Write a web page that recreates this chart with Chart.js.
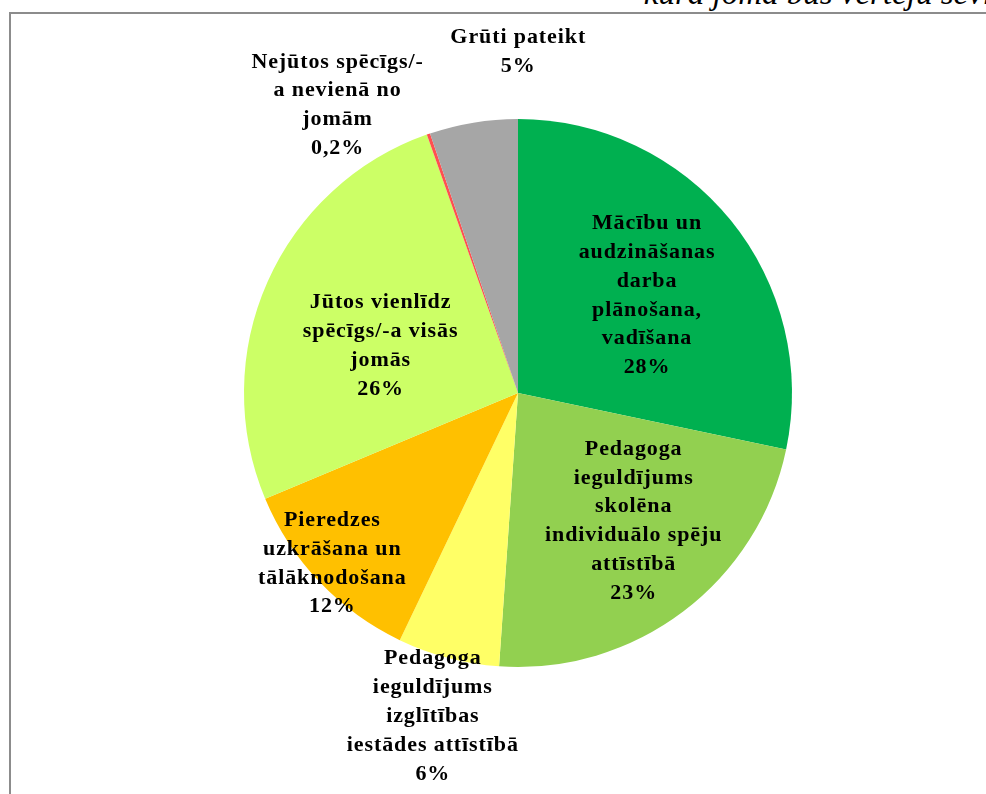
<!DOCTYPE html>
<html>
<head>
<meta charset="utf-8">
<script src="https://cdn.jsdelivr.net/npm/chart.js@4"></script>
<style>
    html, body { margin: 0; padding: 0; background: #fff; overflow: hidden; }
    #wrap { position: relative; width: 986px; height: 794px; }
    #frame { position: absolute; left: 9px; top: 12px; width: 1000px; height: 800px; border: 2px solid #8c8c8c; box-sizing: border-box; }
    #title { position: absolute; right: -6px; top: -25px; font: italic 33px "Liberation Serif", "Times New Roman", serif; color: #000; white-space: nowrap; }
    canvas { position: absolute; left: 0; top: 0; }
</style>
</head>
<body>
<div id="wrap">
    <div id="frame"></div>
    <div id="title">kurā jomā būs vērtēju sevi</div>
    <canvas id="pieChart" width="986" height="794"></canvas>
</div>
<script>
// Chart data
const categories = [
    ['Mācību un', 'audzināšanas', 'darba', 'plānošana,', 'vadīšana'],
    ['Pedagoga', 'ieguldījums', 'skolēna', 'individuālo spēju', 'attīstībā'],
    ['Pedagoga', 'ieguldījums', 'izglītības', 'iestādes attīstībā'],
    ['Pieredzes', 'uzkrāšana un', 'tālāknodošana'],
    ['Jūtos vienlīdz', 'spēcīgs/-a visās', 'jomās'],
    ['Nejūtos spēcīgs/-', 'a nevienā no', 'jomām'],
    ['Grūti pateikt']
];
const shares = [28.3, 22.8, 6.0, 11.6, 25.9, 0.2, 5.2];
const shownPercent = ['28%', '23%', '6%', '12%', '26%', '0,2%', '5%'];
const sliceColors = ['#00B050', '#92D050', '#FFFF66', '#FFC000', '#CCFF66', '#FF5050', '#A6A6A6'];

// where each label sits: fraction of radius and angle nudge (degrees)
const labelPlace = [
    { f: 0.59, da: 2 },
    { f: 0.63, da: -5 },
    { f: 1.22, da: 0 },
    { f: 0.92, da: 1 },
    { f: 0.53, da: -5 },
    { f: 1.24, da: -13 },
    { f: 1.245, da: 9.4 }
];

// Plugin drawing the multi-line labels
const sliceLabels = {
    id: 'sliceLabels',
    afterDatasetsDraw(chart) {
        const ctx = chart.ctx;
        const meta = chart.getDatasetMeta(0);
        ctx.save();
        ctx.font = 'bold 22px "Liberation Serif", "Times New Roman", serif';
        ctx.letterSpacing = '0.9px';
        ctx.fillStyle = '#000';
        ctx.textAlign = 'center';
        ctx.textBaseline = 'middle';
        const lineH = 28.8;
        meta.data.forEach((arc, i) => {
            const p = arc.getProps(['x', 'y', 'startAngle', 'endAngle', 'outerRadius'], true);
            const mid = (p.startAngle + p.endAngle) / 2 + labelPlace[i].da * Math.PI / 180;
            const r = p.outerRadius * labelPlace[i].f;
            const cx = p.x + Math.cos(mid) * r;
            const cy = p.y + Math.sin(mid) * r;
            const lines = categories[i].concat([shownPercent[i]]);
            const top = cy - (lines.length - 1) * lineH / 2;
            lines.forEach((line, k) => {
                ctx.fillText(line, cx, top + k * lineH);
            });
        });
        ctx.restore();
    }
};

const ctx = document.getElementById('pieChart').getContext('2d');
new Chart(ctx, {
    type: 'pie',
    data: {
        labels: categories.map(c => c.join(' ')),
        datasets: [{
            data: shares,
            backgroundColor: sliceColors,
            borderWidth: 0
        }]
    },
    options: {
        responsive: false,
        animation: false,
        layout: {
            padding: { left: 244, right: 194, top: 119, bottom: 127 }
        },
        plugins: {
            legend: { display: false },
            tooltip: { enabled: false },
            title: { display: false }
        }
    },
    plugins: [sliceLabels]
});
</script>
</body>
</html>
